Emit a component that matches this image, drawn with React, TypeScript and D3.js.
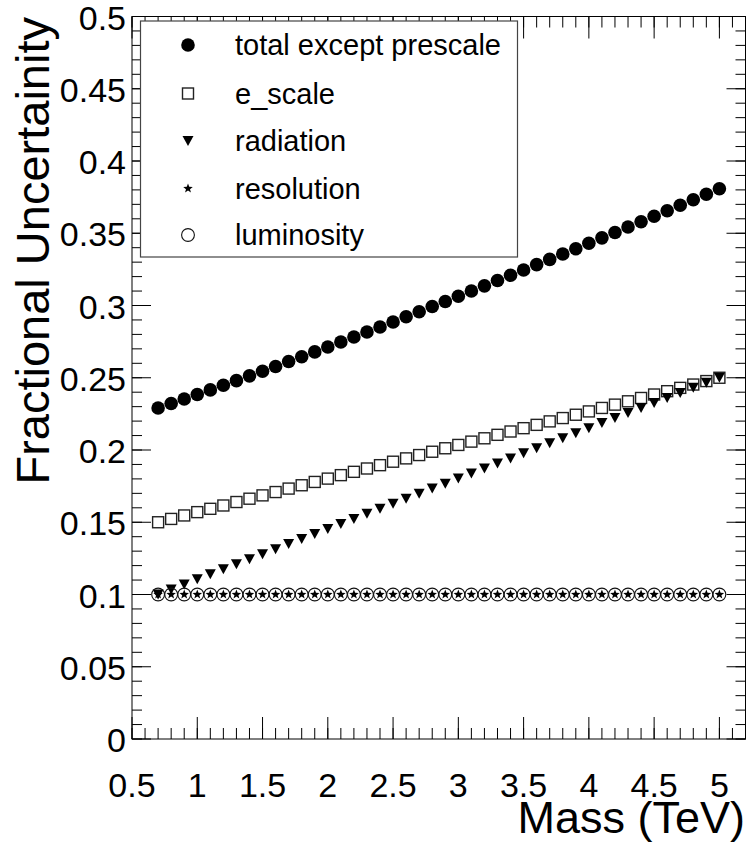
import React from "react";
import * as d3 from "d3";

const mass = [0.7, 0.8, 0.9, 1.0, 1.1, 1.2, 1.3, 1.4, 1.5, 1.6, 1.7, 1.8, 1.9, 2.0, 2.1, 2.2, 2.3, 2.4, 2.5, 2.6, 2.7, 2.8, 2.9, 3.0, 3.1, 3.2, 3.3, 3.4, 3.5, 3.6, 3.7, 3.8, 3.9, 4.0, 4.1, 4.2, 4.3, 4.4, 4.5, 4.6, 4.7, 4.8, 4.9, 5.0];

const totalExceptPrescale = [0.2291, 0.2322, 0.2353, 0.2384, 0.2416, 0.2448, 0.248, 0.2513, 0.2545, 0.2578, 0.2612, 0.2645, 0.2679, 0.2713, 0.2747, 0.2782, 0.2817, 0.2851, 0.2886, 0.2922, 0.2957, 0.2993, 0.3028, 0.3064, 0.31, 0.3136, 0.3173, 0.3209, 0.3246, 0.3283, 0.3319, 0.3356, 0.3393, 0.3431, 0.3468, 0.3505, 0.3543, 0.358, 0.3618, 0.3656, 0.3694, 0.3732, 0.377, 0.3808];

const eScale = [0.15, 0.1523, 0.1547, 0.157, 0.1593, 0.1616, 0.164, 0.1663, 0.1686, 0.1709, 0.1733, 0.1756, 0.1779, 0.1802, 0.1826, 0.1849, 0.1872, 0.1895, 0.1919, 0.1942, 0.1965, 0.1988, 0.2012, 0.2035, 0.2058, 0.2081, 0.2105, 0.2128, 0.2151, 0.2174, 0.2198, 0.2221, 0.2244, 0.2267, 0.2291, 0.2314, 0.2337, 0.236, 0.2384, 0.2407, 0.243, 0.2453, 0.2477, 0.25];

const radiation = [0.1, 0.1035, 0.107, 0.1105, 0.114, 0.1174, 0.1209, 0.1244, 0.1279, 0.1314, 0.1349, 0.1384, 0.1419, 0.1453, 0.1488, 0.1523, 0.1558, 0.1593, 0.1628, 0.1663, 0.1698, 0.1733, 0.1767, 0.1802, 0.1837, 0.1872, 0.1907, 0.1942, 0.1977, 0.2012, 0.2047, 0.2081, 0.2116, 0.2151, 0.2186, 0.2221, 0.2256, 0.2291, 0.2326, 0.236, 0.2395, 0.243, 0.2465, 0.25];

const resolution = [0.1, 0.1, 0.1, 0.1, 0.1, 0.1, 0.1, 0.1, 0.1, 0.1, 0.1, 0.1, 0.1, 0.1, 0.1, 0.1, 0.1, 0.1, 0.1, 0.1, 0.1, 0.1, 0.1, 0.1, 0.1, 0.1, 0.1, 0.1, 0.1, 0.1, 0.1, 0.1, 0.1, 0.1, 0.1, 0.1, 0.1, 0.1, 0.1, 0.1, 0.1, 0.1, 0.1, 0.1];

const luminosity = [0.1, 0.1, 0.1, 0.1, 0.1, 0.1, 0.1, 0.1, 0.1, 0.1, 0.1, 0.1, 0.1, 0.1, 0.1, 0.1, 0.1, 0.1, 0.1, 0.1, 0.1, 0.1, 0.1, 0.1, 0.1, 0.1, 0.1, 0.1, 0.1, 0.1, 0.1, 0.1, 0.1, 0.1, 0.1, 0.1, 0.1, 0.1, 0.1, 0.1, 0.1, 0.1, 0.1, 0.1];

const xTicks = [0.5, 1, 1.5, 2, 2.5, 3, 3.5, 4, 4.5, 5];
const xTickLabels = ["0.5", "1", "1.5", "2", "2.5", "3", "3.5", "4", "4.5", "5"];
const yTicks = [0, 0.05, 0.1, 0.15, 0.2, 0.25, 0.3, 0.35, 0.4, 0.45, 0.5];
const yTickLabels = ["0", "0.05", "0.1", "0.15", "0.2", "0.25", "0.3", "0.35", "0.4", "0.45", "0.5"];

const legendLabels = ["total except prescale", "e_scale", "radiation", "resolution", "luminosity"];
const xTitle = "Mass (TeV)";
const yTitle = "Fractional Uncertainity";

const W = 755;
const H = 844;
const FL = 132;
const FR = 745.5;
const FT = 16.5;
const FB = 739;
const FONT = "'Liberation Sans', Arial, Helvetica, sans-serif";

function starPath(cx: number, cy: number, ro: number, ri: number) {
  const pts: string[] = [];
  for (let i = 0; i < 10; i++) {
    const a = -Math.PI / 2 + (i * Math.PI) / 5;
    const r = i % 2 === 0 ? ro : ri;
    pts.push(`${(cx + r * Math.cos(a)).toFixed(2)},${(cy + r * Math.sin(a)).toFixed(2)}`);
  }
  return "M" + pts.join("L") + "Z";
}

function triPath(cx: number, cy: number, w: number, h: number) {
  return `M${cx - w / 2},${cy - h / 2}L${cx + w / 2},${cy - h / 2}L${cx},${cy + h / 2}Z`;
}

type Kind = "dot" | "square" | "tri" | "star" | "ring";

function Marker({ kind, x, y }: { kind: Kind; x: number; y: number }) {
  if (kind === "dot") return <circle cx={x} cy={y} r={6.8} fill="#000" />;
  if (kind === "square")
    return <rect x={x - 5.5} y={y - 5.5} width={11} height={11} fill="none" stroke="#222" strokeWidth={1.4} />;
  if (kind === "tri") return <path d={triPath(x, y, 11, 10)} fill="#000" />;
  if (kind === "star") return <path d={starPath(x, y, 5, 2.1)} fill="#000" />;
  return <circle cx={x} cy={y} r={6.4} fill="none" stroke="#111" strokeWidth={1.1} />;
}

export default function App() {
  const x = d3.scaleLinear().domain([0.5, 5.2]).range([FL, FR]);
  const y = d3.scaleLinear().domain([0, 0.5]).range([FB, FT]);

  const xMinor = d3.range(5, 53).map((i) => i / 10).filter((v) => v <= 5.2 + 1e-9);
  const yMinor = d3.range(0, 51).map((i) => i / 100);

  const series: { kind: Kind; values: number[] }[] = [
    { kind: "dot", values: totalExceptPrescale },
    { kind: "square", values: eScale },
    { kind: "tri", values: radiation },
    { kind: "star", values: resolution },
    { kind: "ring", values: luminosity },
  ];

  const xMaj = 22, xMin = 11, yMaj = 19, yMin = 10;
  const legendRows = [45, 93.5, 141, 188.5, 235];

  return (
    <svg width={W} height={H} style={{ position: "absolute", left: 0, top: 0, background: "#fff" }} fontFamily={FONT}>
      <rect x={0} y={0} width={W} height={H} fill="#fff" />
      <g stroke="#000" strokeWidth={1}>
        {xMinor.map((v, i) => (
          <g key={"xm" + i}>
            <line x1={x(v)} x2={x(v)} y1={FB} y2={FB - xMin} />
            <line x1={x(v)} x2={x(v)} y1={FT} y2={FT + xMin} />
          </g>
        ))}
        {xTicks.map((v, i) => (
          <g key={"xM" + i}>
            <line x1={x(v)} x2={x(v)} y1={FB} y2={FB - xMaj} />
            <line x1={x(v)} x2={x(v)} y1={FT} y2={FT + xMaj} />
          </g>
        ))}
        {yMinor.map((v, i) => (
          <g key={"ym" + i}>
            <line x1={FL} x2={FL + yMin} y1={y(v)} y2={y(v)} />
            <line x1={FR} x2={FR - yMin} y1={y(v)} y2={y(v)} />
          </g>
        ))}
        {yTicks.map((v, i) => (
          <g key={"yM" + i}>
            <line x1={FL} x2={FL + yMaj} y1={y(v)} y2={y(v)} />
            <line x1={FR} x2={FR - yMaj} y1={y(v)} y2={y(v)} />
          </g>
        ))}
      </g>
      <rect x={FL} y={FT} width={FR - FL} height={FB - FT} fill="none" stroke="#000" strokeWidth={1} />

      {series.map((s, si) => (
        <g key={"s" + si}>
          {s.values.map((v, i) => (
            <Marker key={i} kind={s.kind} x={x(mass[i])} y={y(v)} />
          ))}
        </g>
      ))}

      <rect x={140.5} y={21} width={377} height={236} fill="#fff" stroke="#444" strokeWidth={1.2} />
      {legendLabels.map((lab, i) => (
        <g key={"l" + i}>
          <Marker kind={series[i].kind} x={188} y={legendRows[i]} />
          <text x={235} y={legendRows[i] + 10} fontSize={29} fill="#000">
            {lab}
          </text>
        </g>
      ))}

      {yTicks.map((v, i) => (
        <text key={"yl" + i} x={126} y={y(v) + 13} fontSize={34} textAnchor="end" fill="#000">
          {yTickLabels[i]}
        </text>
      ))}
      {xTicks.map((v, i) => (
        <text key={"xl" + i} x={x(v)} y={797} fontSize={34} textAnchor="middle" fill="#000">
          {xTickLabels[i]}
        </text>
      ))}

      <text x={745} y={833} fontSize={45} textAnchor="end" fill="#000">
        {xTitle}
      </text>
      <text transform={`translate(49,17) rotate(-90)`} fontSize={47} textAnchor="end" fill="#000">
        {yTitle}
      </text>
    </svg>
  );
}
